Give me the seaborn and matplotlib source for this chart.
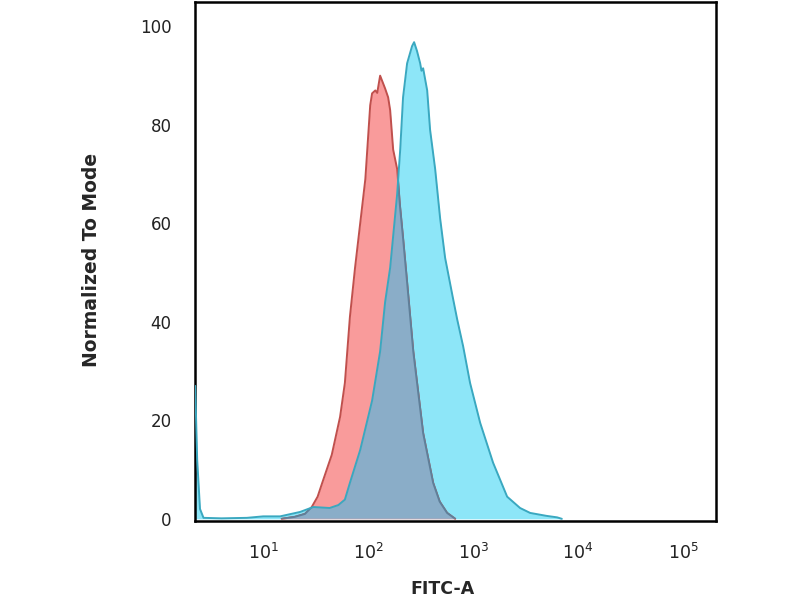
import matplotlib
matplotlib.use("Agg")
import matplotlib.pyplot as plt
import pandas as pd
import seaborn as sns
from matplotlib.ticker import FixedLocator, NullLocator

# FITC-A fluorescence (x) and normalized-to-mode counts (y)
cyan_x = [2.25, 2.35, 2.5, 2.7, 4, 7, 10, 14.5, 22.5, 30, 43, 52, 60, 67, 84, 109,
          130, 145, 162, 189, 202, 215, 235, 262, 274, 292, 313, 322, 334, 365,
          389, 435, 485, 541, 640, 705, 804, 935, 1167, 1549, 2109, 2800, 3491,
          5000, 6310, 7000]
cyan_y = [27, 12, 2, 0.2, 0.1, 0.2, 0.5, 0.5, 1.4, 2.4, 2.2, 2.8, 3.9, 7.3, 14, 24,
          34, 44, 51, 66, 75, 85.6, 92.5, 96, 96.8, 95, 92.5, 91, 91.5, 87,
          79, 71, 61, 53, 45, 40.5, 35, 27.6, 19.5, 11.4, 4.5, 2.2, 1.2,
          0.6, 0.3, 0]

red_x = [15, 20, 25, 29, 33, 36.5, 45, 54, 60, 67, 75, 94, 104.6, 109, 117, 122,
         130, 145, 155, 162, 173, 189, 200, 215, 235, 269, 334, 416, 480, 565, 675]
red_y = [0, 0.4, 1.0, 2.4, 4.5, 7.3, 13, 20.7, 27.6, 41, 51, 69, 84, 86.4, 87, 86.5,
         90, 87.4, 85.6, 83, 75, 71, 64, 57, 48, 34, 17.4, 7.3, 3.5, 1.2, 0]

x_ticks = [10, 100, 1000, 10000, 100000]
y_ticks = [0, 20, 40, 60, 80, 100]

red_fill = "#f99b9b"
red_edge = "#c0504d"
cyan_fill = "#8de6f8"
cyan_edge = "#3aa8c0"
overlap_fill = "#8aadc8"
overlap_edge = "#5f7f99"

sns.set_style("white")
plt.rcParams['font.family'] = ['DejaVu Sans']

cyan_df = pd.DataFrame({"FITC-A": cyan_x, "count": cyan_y})
red_df = pd.DataFrame({"FITC-A": red_x, "count": red_y})

fig = plt.figure(figsize=(8, 6), dpi=100)
ax = fig.add_axes([0.244, 0.132, 0.651, 0.865])
ax.set_xscale("log")

cyan_poly = ax.fill_between(cyan_df["FITC-A"], cyan_df["count"], 0, color=cyan_fill, lw=0, zorder=1)
red_poly = ax.fill_between(red_df["FITC-A"], red_df["count"], 0, color=red_fill, lw=0, zorder=2)
sns.lineplot(data=red_df, x="FITC-A", y="count", color=red_edge, lw=1.4, zorder=3, ax=ax)

# where the two histograms overlap
ov = ax.fill_between(cyan_df["FITC-A"], cyan_df["count"], 0, color=overlap_fill,
                     lw=0, zorder=4)
ov.set_clip_path(red_poly.get_paths()[0], ax.transData)
# red outline seen through the blue histogram
sns.lineplot(data=red_df, x="FITC-A", y="count", color=overlap_edge, lw=1.4, zorder=4.5, ax=ax)
ax.lines[-1].set_clip_path(cyan_poly.get_paths()[0], ax.transData)

sns.lineplot(data=cyan_df, x="FITC-A", y="count", color=cyan_edge, lw=1.4, zorder=5, ax=ax)

ax.set_xlim(2.25, 2.06e5)
ax.set_ylim(-0.4, 105)
ax.xaxis.set_major_locator(FixedLocator(x_ticks))
ax.xaxis.set_minor_locator(NullLocator())
ax.set_yticks(y_ticks)
ax.tick_params(axis="both", length=0, colors="#222222")
ax.tick_params(axis="x", pad=16, labelsize=12.5)
ax.tick_params(axis="y", pad=17, labelsize=12)

for s in ax.spines.values():
    s.set_visible(True)
    s.set_color("black")
    s.set_linewidth(1.8)

ax.set_xlabel("FITC-A", fontsize=12.5, fontweight="bold")
ax.set_ylabel("Normalized To Mode", fontsize=13.5, fontweight="bold")
ax.xaxis.set_label_coords(0.474, -0.115)
ax.yaxis.set_label_coords(-0.18, 0.503)

fig.savefig("out.png", dpi=100)
